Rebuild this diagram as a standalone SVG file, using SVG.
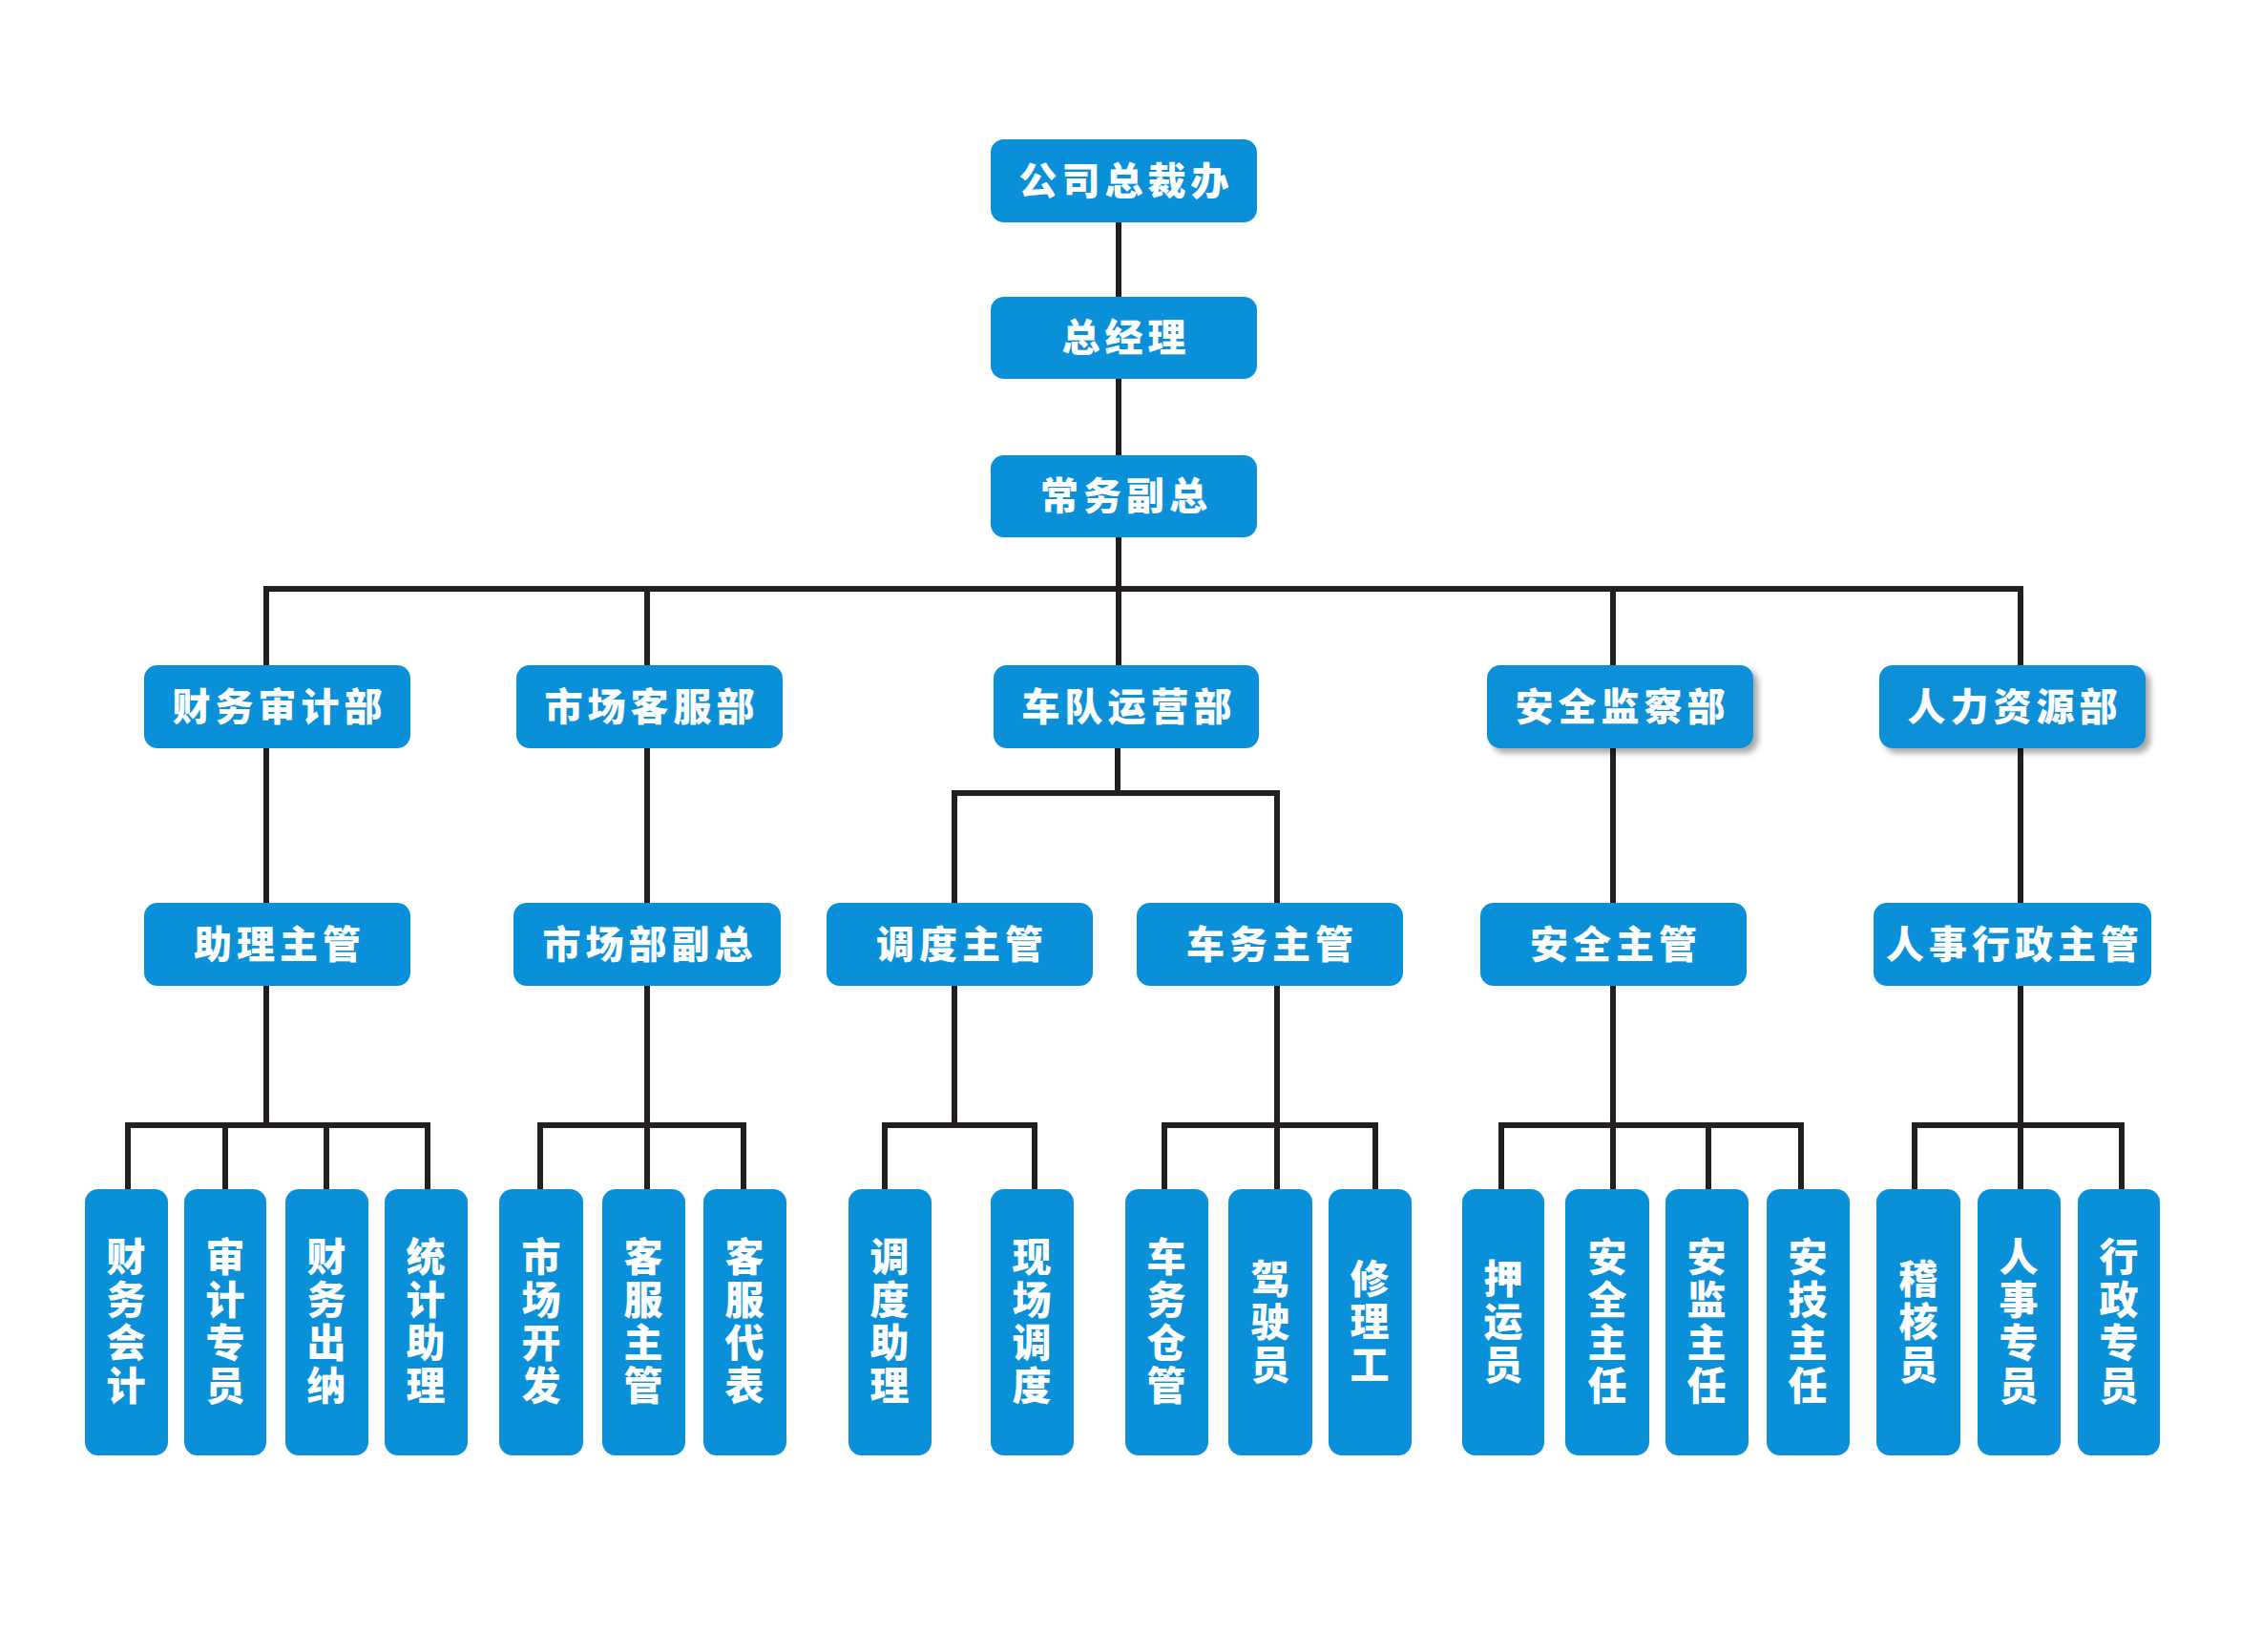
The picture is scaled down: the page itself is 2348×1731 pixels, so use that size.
<svg xmlns="http://www.w3.org/2000/svg" width="2348" height="1731" viewBox="0 0 2348 1731">
<defs>
<filter id="sh" x="-10%" y="-20%" width="130%" height="150%">
<feDropShadow dx="5" dy="5" stdDeviation="3" flood-color="#000" flood-opacity="0.35"/>
</filter>
</defs>
<style>
.b{fill:#0a90d8}
.t{fill:#fff;font-family:"Noto Sans CJK SC","Noto Sans",sans-serif;font-weight:900;font-size:40px;letter-spacing:5px;text-anchor:middle}
.v{fill:#fff;font-family:"Noto Sans CJK SC","Noto Sans",sans-serif;font-weight:900;font-size:41px;text-anchor:middle}
.c{fill:none;stroke:#231f20;stroke-width:6;stroke-linecap:square;stroke-linejoin:miter}
</style>
<rect width="2348" height="1731" fill="#fff"/>
<g id="connectors" class="c">
<path d="M1172 233V697"/>
<path d="M279 697V617H2117V697"/>
<path d="M678 617V697"/>
<path d="M1690 617V697"/>
<path d="M279 784V946M678 784V946M1690 784V946M2117 784V946"/>
<path d="M1171 784V831M1000 946V831H1338V946"/>
<path d="M279 1033V1179M678 1033V1179M1000 1033V1179M1338 1033V1179M1690 1033V1179M2117 1033V1179"/>
<path d="M134 1246V1179H448V1246M236 1179V1246M342 1179V1246"/>
<path d="M566 1246V1179H779V1246M678 1179V1246"/>
<path d="M927 1246V1179H1084V1246"/>
<path d="M1220 1246V1179H1441V1246M1338 1179V1246"/>
<path d="M1573 1246V1179H1887V1246M1690 1179V1246M1790 1179V1246"/>
<path d="M2006 1246V1179H2223V1246M2117 1179V1246"/>
</g>
<g id="n-ceo"><rect class="b" x="1038" y="146" width="279" height="87" rx="14"/><text class="t" x="1180" y="204">公司总裁办</text></g>
<g id="n-gm"><rect class="b" x="1038" y="311" width="279" height="86" rx="14"/><text class="t" x="1180" y="368">总经理</text></g>
<g id="n-evp"><rect class="b" x="1038" y="477" width="279" height="86" rx="14"/><text class="t" x="1180" y="534">常务副总</text></g>

<g id="n-fin"><rect class="b" x="151" y="697" width="279" height="87" rx="14"/><text class="t" x="293" y="755">财务审计部</text></g>
<g id="n-mkt"><rect class="b" x="541" y="697" width="279" height="87" rx="14"/><text class="t" x="683" y="755">市场客服部</text></g>
<g id="n-fleet"><rect class="b" x="1041" y="697" width="278" height="87" rx="14"/><text class="t" x="1183" y="755">车队运营部</text></g>
<g id="n-safe"><rect class="b" x="1558" y="697" width="279" height="87" rx="14" filter="url(#sh)"/><text class="t" x="1700" y="755">安全监察部</text></g>
<g id="n-hr"><rect class="b" x="1969" y="697" width="279" height="87" rx="14" filter="url(#sh)"/><text class="t" x="2111" y="755">人力资源部</text></g>

<g id="n-asst"><rect class="b" x="151" y="946" width="279" height="87" rx="14"/><text class="t" x="293" y="1004">助理主管</text></g>
<g id="n-mktvp"><rect class="b" x="538" y="946" width="280" height="87" rx="14"/><text class="t" x="681" y="1004">市场部副总</text></g>
<g id="n-disp"><rect class="b" x="866" y="946" width="279" height="87" rx="14"/><text class="t" x="1008" y="1004">调度主管</text></g>
<g id="n-veh"><rect class="b" x="1191" y="946" width="279" height="87" rx="14"/><text class="t" x="1333" y="1004">车务主管</text></g>
<g id="n-safemgr"><rect class="b" x="1551" y="946" width="279" height="87" rx="14"/><text class="t" x="1693" y="1004">安全主管</text></g>
<g id="n-hrmgr"><rect class="b" x="1963" y="946" width="291" height="87" rx="14"/><text class="t" x="2111" y="1004">人事行政主管</text></g>

<g id="l1"><rect class="b" x="89" y="1246" width="87" height="279" rx="14"/><text class="v" x="132" y="1332">财</text><text class="v" x="132" y="1377">务</text><text class="v" x="132" y="1422">会</text><text class="v" x="132" y="1467">计</text></g>
<g id="l2"><rect class="b" x="193" y="1246" width="86" height="279" rx="14"/><text class="v" x="236" y="1332">审</text><text class="v" x="236" y="1377">计</text><text class="v" x="236" y="1422">专</text><text class="v" x="236" y="1467">员</text></g>
<g id="l3"><rect class="b" x="299" y="1246" width="87" height="279" rx="14"/><text class="v" x="342" y="1332">财</text><text class="v" x="342" y="1377">务</text><text class="v" x="342" y="1422">出</text><text class="v" x="342" y="1467">纳</text></g>
<g id="l4"><rect class="b" x="403" y="1246" width="87" height="279" rx="14"/><text class="v" x="446" y="1332">统</text><text class="v" x="446" y="1377">计</text><text class="v" x="446" y="1422">助</text><text class="v" x="446" y="1467">理</text></g>

<g id="l5"><rect class="b" x="523" y="1246" width="88" height="279" rx="14"/><text class="v" x="567" y="1332">市</text><text class="v" x="567" y="1377">场</text><text class="v" x="567" y="1422">开</text><text class="v" x="567" y="1467">发</text></g>
<g id="l6"><rect class="b" x="631" y="1246" width="87" height="279" rx="14"/><text class="v" x="674" y="1332">客</text><text class="v" x="674" y="1377">服</text><text class="v" x="674" y="1422">主</text><text class="v" x="674" y="1467">管</text></g>
<g id="l7"><rect class="b" x="737" y="1246" width="87" height="279" rx="14"/><text class="v" x="780" y="1332">客</text><text class="v" x="780" y="1377">服</text><text class="v" x="780" y="1422">代</text><text class="v" x="780" y="1467">表</text></g>

<g id="l8"><rect class="b" x="889" y="1246" width="87" height="279" rx="14"/><text class="v" x="932" y="1332">调</text><text class="v" x="932" y="1377">度</text><text class="v" x="932" y="1422">助</text><text class="v" x="932" y="1467">理</text></g>
<g id="l9"><rect class="b" x="1038" y="1246" width="87" height="279" rx="14"/><text class="v" x="1081" y="1332">现</text><text class="v" x="1081" y="1377">场</text><text class="v" x="1081" y="1422">调</text><text class="v" x="1081" y="1467">度</text></g>

<g id="l10"><rect class="b" x="1179" y="1246" width="87" height="279" rx="14"/><text class="v" x="1222" y="1332">车</text><text class="v" x="1222" y="1377">务</text><text class="v" x="1222" y="1422">仓</text><text class="v" x="1222" y="1467">管</text></g>
<g id="l11"><rect class="b" x="1287" y="1246" width="88" height="279" rx="14"/><text class="v" x="1331" y="1355">驾</text><text class="v" x="1331" y="1400">驶</text><text class="v" x="1331" y="1445">员</text></g>
<g id="l12"><rect class="b" x="1392" y="1246" width="87" height="279" rx="14"/><text class="v" x="1435" y="1355">修</text><text class="v" x="1435" y="1400">理</text><text class="v" x="1435" y="1445">工</text></g>

<g id="l13"><rect class="b" x="1532" y="1246" width="86" height="279" rx="14"/><text class="v" x="1575" y="1355">押</text><text class="v" x="1575" y="1400">运</text><text class="v" x="1575" y="1445">员</text></g>
<g id="l14"><rect class="b" x="1640" y="1246" width="88" height="279" rx="14"/><text class="v" x="1684" y="1332">安</text><text class="v" x="1684" y="1377">全</text><text class="v" x="1684" y="1422">主</text><text class="v" x="1684" y="1467">任</text></g>
<g id="l15"><rect class="b" x="1745" y="1246" width="87" height="279" rx="14"/><text class="v" x="1788" y="1332">安</text><text class="v" x="1788" y="1377">监</text><text class="v" x="1788" y="1422">主</text><text class="v" x="1788" y="1467">任</text></g>
<g id="l16"><rect class="b" x="1851" y="1246" width="87" height="279" rx="14"/><text class="v" x="1894" y="1332">安</text><text class="v" x="1894" y="1377">技</text><text class="v" x="1894" y="1422">主</text><text class="v" x="1894" y="1467">任</text></g>

<g id="l17"><rect class="b" x="1966" y="1246" width="88" height="279" rx="14"/><text class="v" x="2010" y="1355">稽</text><text class="v" x="2010" y="1400">核</text><text class="v" x="2010" y="1445">员</text></g>
<g id="l18"><rect class="b" x="2072" y="1246" width="87" height="279" rx="14"/><text class="v" x="2115" y="1332">人</text><text class="v" x="2115" y="1377">事</text><text class="v" x="2115" y="1422">专</text><text class="v" x="2115" y="1467">员</text></g>
<g id="l19"><rect class="b" x="2177" y="1246" width="86" height="279" rx="14"/><text class="v" x="2220" y="1332">行</text><text class="v" x="2220" y="1377">政</text><text class="v" x="2220" y="1422">专</text><text class="v" x="2220" y="1467">员</text></g>
</svg>
